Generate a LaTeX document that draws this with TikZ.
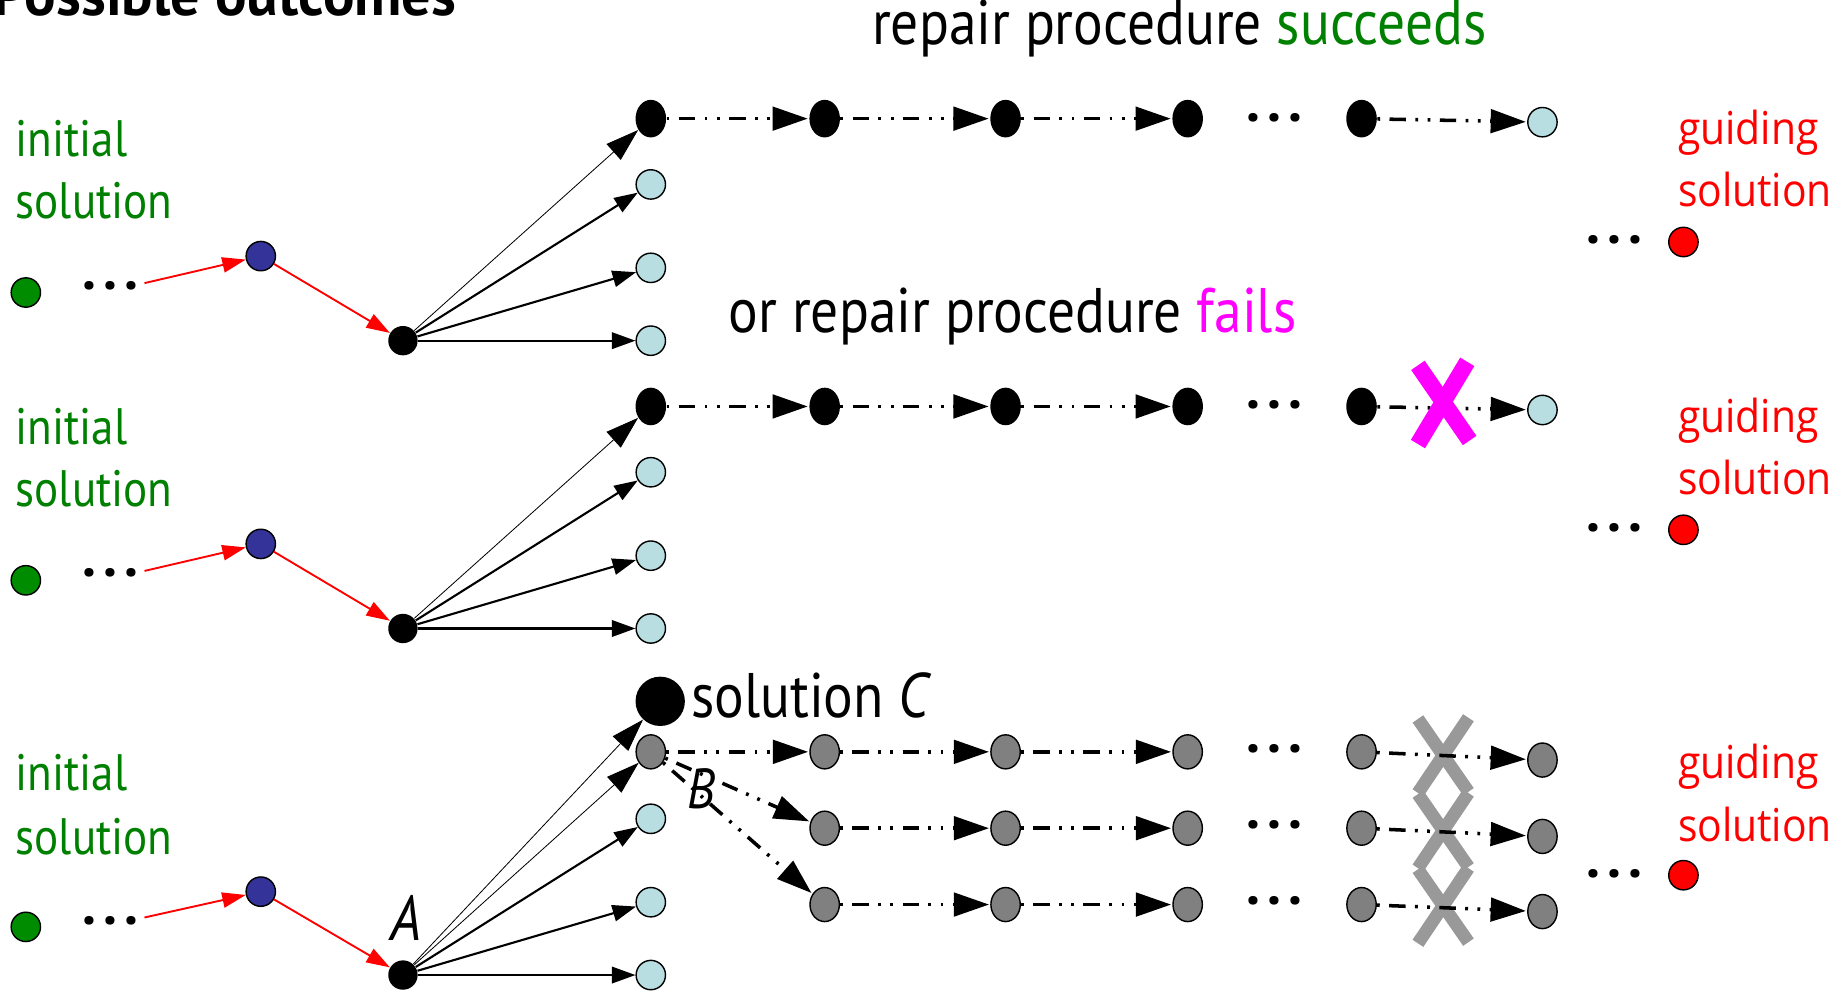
\documentclass[tikz,border=0pt]{standalone}
\usepackage{fontspec}
\setmainfont{PT Sans}
\newfontfamily\condf[FakeStretch=0.88]{PT Sans}
\newfontfamily\comicf[FakeStretch=0.9]{Open Sans}
\usetikzlibrary{arrows.meta,shapes.geometric}
\definecolor{lblue}{RGB}{184,222,226}
\definecolor{dgreen}{RGB}{0,140,0}
\definecolor{tgreen}{RGB}{0,128,0}
\definecolor{dblue}{RGB}{51,51,153}
\definecolor{gnode}{RGB}{128,128,128}
\definecolor{xgray}{RGB}{153,153,153}
\definecolor{mag}{RGB}{255,0,255}
\begin{document}
\begin{tikzpicture}[x=0.5pt,y=-0.5pt,
  dot/.style={circle,draw=black,line width=0.6pt,inner sep=0pt,minimum size=12.5pt},
  gdot/.style={dot,fill=dgreen},
  bdot/.style={dot,fill=dblue},
  rdot/.style={dot,fill=red},
  lbdot/.style={dot,fill=lblue},
  kdot/.style={circle,fill=black,inner sep=0pt,minimum size=12.5pt},
  cdot/.style={ellipse,fill=black,inner sep=0pt,minimum width=13pt,minimum height=16pt},
  graydot/.style={ellipse,draw=black,line width=0.6pt,fill=gnode,inner sep=0pt,minimum width=12.5pt,minimum height=14.5pt},
  bigdot/.style={circle,fill=black,inner sep=0pt,minimum size=21pt},
  chainarr/.style={line width=1.5pt,dash pattern=on 1.2pt off 4pt on 7pt off 4pt on 1.2pt off 4pt,-{Triangle[length=15pt,width=10pt]},shorten >=0.5pt},
  fanthin/.style={line width=0.35pt,-{Triangle[length=14pt,width=9pt]}},
  fanarr/.style={line width=0.9pt,-{Triangle[length=10pt,width=7pt]}},
  redarr/.style={red,line width=0.8pt,-{Triangle[length=10pt,width=6.5pt]}},
  lbl/.style={inner sep=0pt,font=\condf\fontsize{21.8}{26}\selectfont},
  hlbl/.style={inner sep=0pt,font=\condf\fontsize{26.8}{30}\selectfont},
  rlbl/.style={inner sep=0pt,text=red,font=\comicf\fontsize{19.3}{24}\selectfont},
  ell/.style={inner sep=0pt,font=\bfseries\fontsize{24}{26}\selectfont},
  magx/.style={mag,line width=7pt},
  grayx/.style={xgray,line width=5.5pt}
]
\useasboundingbox (0,0) rectangle (1568,845);

% title
\node[inner sep=0pt,anchor=base west,font=\bfseries\fontsize{25}{30}\selectfont] (title) at (-6,13) {Possible outcomes};

% headings
\node[hlbl,anchor=base west] (h1) at (742,38) {repair procedure \textcolor{tgreen}{succeeds}};
\node[hlbl,anchor=base west] (h2) at (620,283) {or repair procedure \textcolor{mag}{fails}};

% sections 1 and 2
\foreach \s/\d in {1/0,2/245}{
  \node[lbl,text=tgreen,anchor=base west] (ini\s) at (13,133+\d) {initial};
  \node[lbl,text=tgreen,anchor=base west] (sol\s) at (13,186+\d) {solution};
  \node[gdot] (g\s) at (22,249+\d) {};
  \node[ell] (e\s) at (94,243+\d) {.\hspace{3pt}.\hspace{3pt}.};
  \coordinate (es\s) at (123,241+\d);
  \node[bdot] (b\s) at (222,218+\d) {};
  \node[kdot] (k\s) at (343,290+\d) {};
  \node[cdot] (c\s a) at (554,101+\d) {};
  \node[lbdot] (t\s b) at (554,157+\d) {};
  \node[lbdot] (t\s c) at (554,228+\d) {};
  \node[lbdot] (t\s d) at (554,290+\d) {};
  \node[cdot] (c\s b) at (702,101+\d) {};
  \node[cdot] (c\s c) at (856,101+\d) {};
  \node[cdot] (c\s d) at (1011,101+\d) {};
  \node[ell] (ce\s) at (1085,100+\d) {.\hspace{3pt}.\hspace{3pt}.};
  \node[cdot] (c\s e) at (1159,101+\d) {};
  \node[lbdot] (c\s f) at (1313,104+\d) {};
  \node[rlbl,anchor=base west] (gu\s) at (1428,123+\d) {guiding};
  \node[rlbl,anchor=base west] (gs\s) at (1428,176+\d) {solution};
  \node[ell] (re\s) at (1374,204+\d) {.\hspace{3pt}.\hspace{3pt}.};
  \node[rdot] (r\s) at (1433,206+\d) {};
  \draw[redarr] (es\s) -- (b\s);
  \draw[redarr] (b\s) -- (k\s);
  \draw[fanthin] (k\s) -- (c\s a);
  \draw[fanarr] (k\s) -- (t\s b);
  \draw[fanarr] (k\s) -- (t\s c);
  \draw[fanarr] (k\s) -- (t\s d);
  \draw[chainarr] (c\s a) -- (c\s b);
  \draw[chainarr] (c\s b) -- (c\s c);
  \draw[chainarr] (c\s c) -- (c\s d);
  \draw[chainarr] (c\s e) -- (c\s f);
}

% magenta X
\draw[magx] (1207,311) -- (1251,375);
\draw[magx] (1249,308) -- (1207,378);

% section 3
\node[lbl,text=tgreen,anchor=base west] (ini3) at (13,673) {initial};
\node[lbl,text=tgreen,anchor=base west] (sol3) at (13,727) {solution};
\node[gdot] (g3) at (22,789) {};
\node[ell] (e3) at (94,784) {.\hspace{3pt}.\hspace{3pt}.};
\coordinate (es3) at (123,781);
\node[bdot] (b3) at (222,759) {};
\node[kdot] (k3) at (343,830) {};
\node[lbl,anchor=base,font=\condf\itshape\fontsize{27}{30}\selectfont] (A) at (346,801) {A};
\node[bigdot] (C) at (562,597) {};
\node[hlbl,anchor=base west] (Clbl) at (588,611) {solution \textit{C}};
\node[graydot] (q0) at (554,640) {};
\node[lbl,anchor=base,font=\condf\itshape\fontsize{24}{28}\selectfont] (B) at (597,688) {B};
\node[lbdot] (t3c) at (554,697) {};
\node[lbdot] (t3d) at (554,768) {};
\node[lbdot] (t3e) at (554,830) {};
\draw[redarr] (es3) -- (b3);
\draw[redarr] (b3) -- (k3);
\draw[fanthin] (k3) -- (C);
\draw[fanthin] (k3) -- (q0);
\draw[fanarr] (k3) -- (t3c);
\draw[fanarr] (k3) -- (t3d);
\draw[fanarr] (k3) -- (t3e);

\foreach \r/\y/\z in {1/640/647,2/705/712,3/770/776}{
  \node[graydot] (q\r b) at (702,\y) {};
  \node[graydot] (q\r c) at (856,\y) {};
  \node[graydot] (q\r d) at (1011,\y) {};
  \node[ell] (qe\r) at (1085,\y-3) {.\hspace{3pt}.\hspace{3pt}.};
  \node[graydot] (q\r e) at (1159,\y) {};
  \node[graydot] (q\r f) at (1313,\z) {};
  \draw[chainarr] (q\r b) -- (q\r c);
  \draw[chainarr] (q\r c) -- (q\r d);
}
\draw[chainarr] (q0) -- (q1b);
\draw[chainarr] (q0) -- (q2b);
\draw[chainarr] (q0) -- (q3b);

% gray X's
\foreach \cy in {643,707,771}{
  \draw[grayx] (1207,\cy-31) -- (1250,\cy+31);
  \draw[grayx] (1250,\cy-32) -- (1207,\cy+32);
}
\foreach \r in {1,2,3}{
  \draw[chainarr] (q\r e) -- (q\r f);
}

\node[rlbl,anchor=base west] (gu3) at (1428,663) {guiding};
\node[rlbl,anchor=base west] (gs3) at (1428,716) {solution};
\node[ell] (re3) at (1374,744) {.\hspace{3pt}.\hspace{3pt}.};
\node[rdot] (r3) at (1433,745) {};
\end{tikzpicture}
\end{document}
